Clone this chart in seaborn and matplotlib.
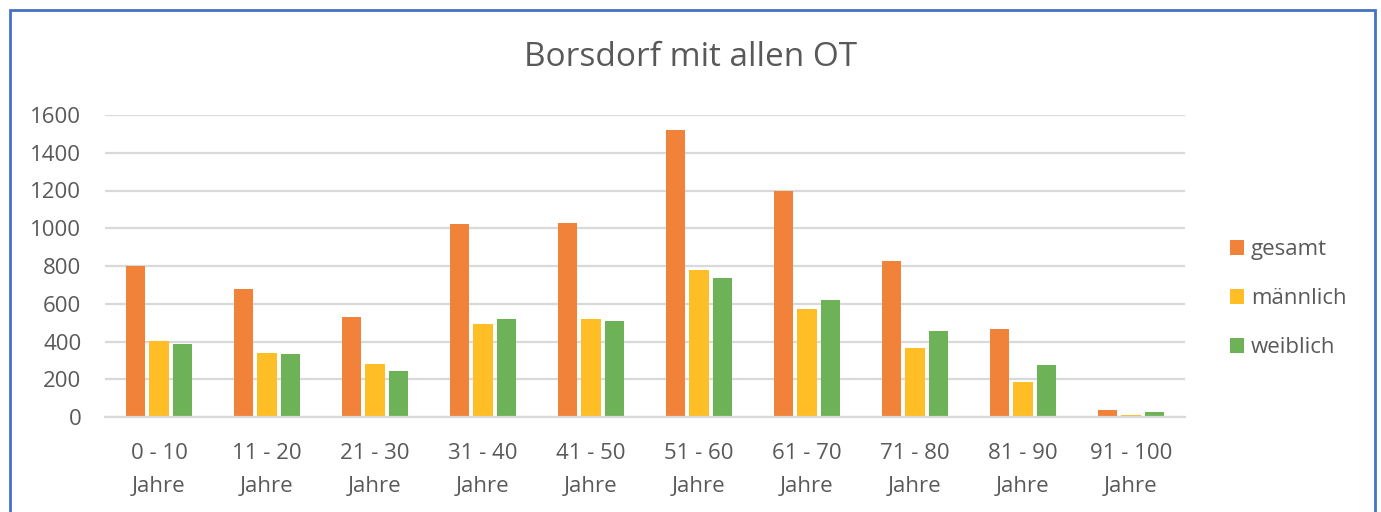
"""
plot.py
Age distribution bar chart for Borsdorf (all districts).
"""

import matplotlib
matplotlib.use("Agg")
import matplotlib.pyplot as plt
from matplotlib.patches import Rectangle
import pandas as pd
import seaborn as sns


# ---------------------------------------------------------------------------
# Data
# ---------------------------------------------------------------------------
age_groups = ["0 - 10\nJahre", "11 - 20\nJahre", "21 - 30\nJahre", "31 - 40\nJahre",
              "41 - 50\nJahre", "51 - 60\nJahre", "61 - 70\nJahre", "71 - 80\nJahre",
              "81 - 90\nJahre", "91 - 100\nJahre"]
gesamt = [799, 680, 531, 1025, 1030, 1519, 1195, 824, 466, 39]
maennlich = [403, 338, 281, 494, 520, 778, 570, 366, 187, 11]
weiblich = [386, 336, 244, 520, 506, 734, 618, 455, 276, 25]
series_names = ["gesamt", "männlich", "weiblich"]
y_ticks = [0, 200, 400, 600, 800, 1000, 1200, 1400, 1600]

palette = {"gesamt": "#F0823A", "männlich": "#FFBE26", "weiblich": "#6DB256"}
text_color = "#595959"
grid_color = "#D9D9D9"

df = pd.DataFrame({
    "Alter": age_groups * 3,
    "Serie": [s for s in series_names for _ in age_groups],
    "Anzahl": gesamt + maennlich + weiblich,
})

# ---------------------------------------------------------------------------
# Plot
# ---------------------------------------------------------------------------
sns.set_theme(style="white")
plt.rcParams["font.family"] = ["Open Sans", "DejaVu Sans"]

W, H = 1381, 512
fig = plt.figure(figsize=(W / 100, H / 100), dpi=100)
ax = fig.add_axes([105 / W, 1 - 417 / H, 1080 / W, 302 / H])

sns.barplot(
    data=df, x="Alter", y="Anzahl", hue="Serie",
    hue_order=series_names, palette=palette, saturation=1,
    width=0.66, gap=0.2, linewidth=0,
    ax=ax, legend=True,
)

ax.set_xlim(-0.5, len(age_groups) - 0.5)
ax.set_ylim(0, 1600)
ax.set_yticks(y_ticks)
ax.yaxis.grid(True, color=grid_color, linewidth=1.6)
ax.set_axisbelow(True)
for side in ["top", "right", "left"]:
    ax.spines[side].set_visible(False)
ax.spines["bottom"].set_color(grid_color)
ax.spines["bottom"].set_linewidth(1.6)
ax.set_xlabel("")
ax.set_ylabel("")
ax.tick_params(axis="both", length=0, labelsize=16, colors=text_color)
ax.tick_params(axis="y", pad=17)
ax.tick_params(axis="x", pad=19)
for lbl in ax.get_xticklabels():
    lbl.set_linespacing(1.75)

fig.text(0.5, 1 - 57 / H, "Borsdorf mit allen OT", fontsize=24,
         color=text_color, ha="center", va="center")

handles, labels = ax.get_legend_handles_labels()
ax.legend(
    handles, labels, loc="center left", bbox_to_anchor=(1.023, 0.392),
    frameon=False, fontsize=16, labelcolor=text_color,
    handlelength=0.65, handleheight=0.65, handletextpad=0.3, labelspacing=1.27,
)

# chart frame
fig.patches.append(Rectangle((10 / W, -0.05), 1365 / W, 1 - 10 / H + 0.05,
                             transform=fig.transFigure, fill=False,
                             edgecolor="#4472C4", linewidth=2))

fig.savefig("out.png", dpi=100)
plt.close(fig)
